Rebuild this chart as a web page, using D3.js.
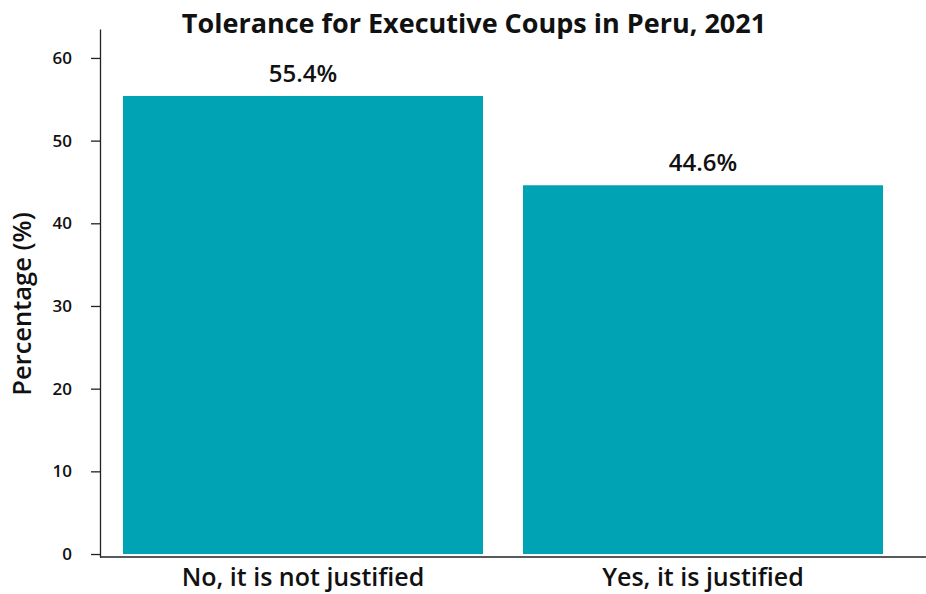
<!DOCTYPE html>
<meta charset="utf-8">
<style>
  body { margin: 0; background: #fff; }
  text { font-family: "Open Sans", "Noto Sans", sans-serif; fill: #111; }
  .axis path, .axis line { stroke: #222; stroke-width: 1.3px; }
</style>
<body>
<script src="https://d3js.org/d3.v7.min.js"></script>
<script>

var categories = ["No, it is not justified", "Yes, it is justified"];
var values = [55.4, 44.6];
var yTicks = [0, 10, 20, 30, 40, 50, 60];

var width = 926,
    height = 594,
    marginLeft = 100,
    plotTop = 29,
    plotBottom = 557;

var svg = d3.select("body").append("svg")
    .attr("width", width)
    .attr("height", height);

var x = d3.scaleBand()
    .domain(categories)
    .range([marginLeft, 906])
    .paddingInner(0.1)
    .paddingOuter(0.0575);

var y = d3.scaleLinear()
    .domain([-0.36, 63.5])
    .range([plotBottom, plotTop]);

// bars
svg.selectAll(".bar")
    .data(values)
  .enter().append("rect")
    .attr("class", "bar")
    .attr("x", function(d, i) { return x(categories[i]); })
    .attr("width", x.bandwidth())
    .attr("y", function(d) { return y(d); })
    .attr("height", function(d) { return y(0) - y(d); })
    .attr("fill", "#00a3b3");

// value labels
svg.selectAll(".value")
    .data(values)
  .enter().append("text")
    .attr("class", "value")
    .attr("x", function(d, i) { return x(categories[i]) + x.bandwidth() / 2; })
    .attr("y", function(d) { return y(d) - 14; })
    .attr("text-anchor", "middle")
    .style("font-size", "24px")
    .style("font-weight", 600)
    .text(function(d) { return d.toFixed(1) + "%"; });

// y axis
var yAxis = svg.append("g")
    .attr("class", "axis")
    .attr("transform", "translate(" + marginLeft + ",0)")
    .call(d3.axisLeft(y).tickValues(yTicks).tickSize(9).tickSizeOuter(0).tickPadding(19));
yAxis.selectAll("text")
    .style("font-size", "17px")
    .style("font-weight", 600)
    .attr("fill", "#111");

// x axis line
svg.append("line")
    .attr("x1", marginLeft)
    .attr("x2", width)
    .attr("y1", plotBottom)
    .attr("y2", plotBottom)
    .attr("stroke", "#222")
    .attr("stroke-width", 1.3);

// x tick labels
svg.selectAll(".xlabel")
    .data(categories)
  .enter().append("text")
    .attr("class", "xlabel")
    .attr("x", function(d) { return x(d) + x.bandwidth() / 2; })
    .attr("y", 586)
    .attr("text-anchor", "middle")
    .style("font-size", "25px")
    .style("font-weight", 600)
    .text(function(d) { return d; });

// y axis title
svg.append("text")
    .attr("transform", "translate(31,304) rotate(-90)")
    .attr("text-anchor", "middle")
    .style("font-size", "25.5px")
    .style("font-weight", 600)
    .text("Percentage (%)");

// title
svg.append("text")
    .attr("x", 474)
    .attr("y", 33)
    .attr("text-anchor", "middle")
    .style("font-size", "27px")
    .style("font-weight", 700)
    .text("Tolerance for Executive Coups in Peru, 2021");

</script>
</body>
